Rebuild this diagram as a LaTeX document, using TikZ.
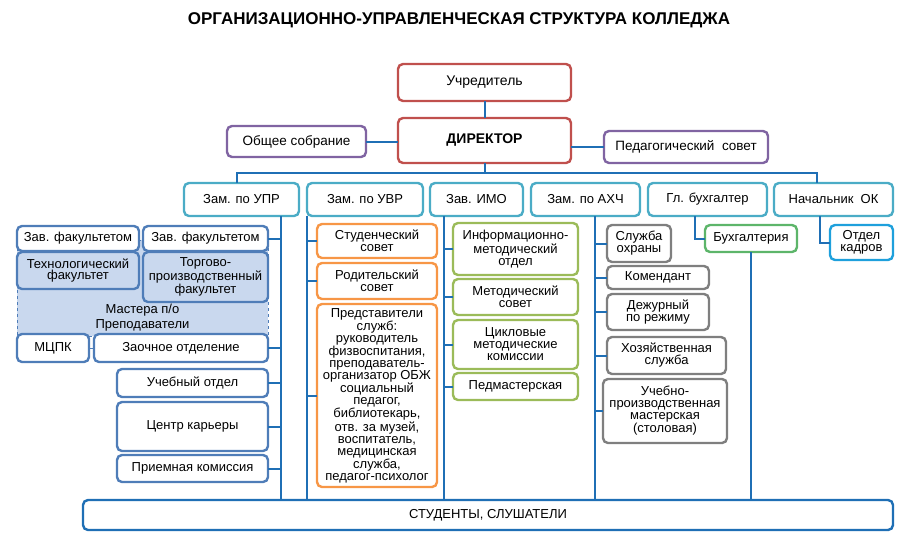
\documentclass[tikz,border=0pt]{standalone}
\usepackage{fontspec}
\setmainfont{Liberation Sans}
\definecolor{cred}{HTML}{C0504D}
\definecolor{cpurp}{HTML}{8064A2}
\definecolor{cteal}{HTML}{4BACC6}
\definecolor{cleftb}{HTML}{4F7DB8}
\definecolor{cfill}{HTML}{C9D8EE}
\definecolor{corange}{HTML}{F79646}
\definecolor{cgreen}{HTML}{9BBB59}
\definecolor{cgray}{HTML}{7F7F7F}
\definecolor{cbuh}{HTML}{5DB56A}
\definecolor{cok}{HTML}{1EA0DC}
\definecolor{cline}{HTML}{1F6FB5}
\newcommand\mybox[7]{\node[bx,#1,minimum width={(#5-#3)*1pt},minimum height={(#6-#4)*1pt}] (#2) at (#3,#4) {#7};}
\begin{document}
\begin{tikzpicture}[x=1pt,y=-1pt,
  bx/.style={draw, line width=2.4pt, rounded corners=5pt, fill=white, align=center,
    inner sep=1pt, outer sep=0pt, font=\fontsize{13}{12}\selectfont, anchor=north west},
  conn/.style={draw=cline, line width=2pt},
  redb/.style={draw=cred, font=\fontsize{14}{13}\selectfont},
  purpb/.style={draw=cpurp},
  tealb/.style={draw=cteal},
  leftb/.style={draw=cleftb},
  facb/.style={draw=cleftb, fill=cfill},
  orb/.style={draw=corange},
  grb/.style={draw=cgreen},
  gyb/.style={draw=cgray},
  buhb/.style={draw=cbuh},
  okb/.style={draw=cok},
  studb/.style={draw=cline}]
\useasboundingbox (0,0) rectangle (916,550);

\node[font=\fontsize{17}{19}\selectfont\bfseries] (title) at (459,20) {ОРГАНИЗАЦИОННО-УПРАВЛЕНЧЕСКАЯ СТРУКТУРА КОЛЛЕДЖА};

% top
\mybox{redb}{uchr}{398}{64}{571}{101}{Учредитель}
\mybox{redb}{dir}{398}{118}{571}{163}{\textbf{ДИРЕКТОР}}
\mybox{purpb,font=\fontsize{13.5}{13}\selectfont}{obs}{227}{126}{366}{157}{Общее собрание}
\mybox{purpb,font=\fontsize{13.5}{13}\selectfont}{ped}{604}{131}{768}{163}{Педагогический\ \ совет}

% deputies
\mybox{tealb}{zupr}{184}{183}{299}{216}{Зам. по УПР}
\mybox{tealb}{zuvr}{307}{183}{423}{216}{Зам. по УВР}
\mybox{tealb}{imo}{430}{183}{523}{216}{Зав. ИМО}
\mybox{tealb}{zahch}{531}{183}{640}{216}{Зам. по АХЧ}
\mybox{tealb}{glbuh}{648}{183}{767}{216}{Гл. бухгалтер}
\mybox{tealb}{nok}{774}{183}{893}{216}{Начальник\ \ ОК}

% left group
\node[draw=cleftb, dashed, line width=1pt, fill=cfill, anchor=north west, outer sep=0pt,
  minimum width=251pt, minimum height=96pt, inner sep=0pt] (mreg) at (17,240) {};
\mybox{leftb}{zf1}{17}{226}{139}{251}{Зав. факультетом}
\mybox{leftb}{zf2}{143}{226}{268}{251}{Зав. факультетом}
\mybox{facb,font=\fontsize{13}{11.5}\selectfont}{tech}{17}{252}{139}{289}{Технологический\\факультет}
\mybox{facb}{torg}{143}{252}{268}{302}{Торгово-\\производственный\\факультет}
\node[align=center, font=\fontsize{13}{15}\selectfont] (mast) at (142.5,318) {Мастера п/о\\Преподаватели};
\mybox{leftb}{mcpk}{17}{334}{89}{362}{МЦПК}
\mybox{leftb}{zaoch}{94}{334}{268}{362}{Заочное отделение}
\mybox{leftb}{ucheb}{117}{369}{268}{397}{Учебный отдел}
\mybox{leftb}{cent}{117}{402}{268}{451}{Центр карьеры}
\mybox{leftb}{priem}{117}{455}{268}{482}{Приемная комиссия}

% orange
\mybox{orb}{stsov}{317}{224}{437}{258}{Студенческий\\совет}
\mybox{orb}{rodsov}{317}{263}{437}{299}{Родительский\\совет}
\mybox{orb}{pred}{317}{304}{437}{487}{Представители\\служб:\\руководитель\\физвоспитания,\\преподаватель-\\организатор ОБЖ\\социальный\\педагог,\\библиотекарь,\\отв. за музей,\\воспитатель,\\медицинская\\служба,\\педагог-психолог}

% green
\mybox{grb}{info}{453}{223}{578}{275}{Информационно-\\методический\\отдел}
\mybox{grb}{metsov}{453}{279}{578}{315}{Методический\\совет}
\mybox{grb}{cikl}{453}{320}{578}{369}{Цикловые\\методические\\комиссии}
\mybox{grb}{pedm}{453}{373}{578}{400}{Педмастерская}

% gray
\mybox{gyb}{ohr}{607}{225}{671}{262}{Служба\\охраны}
\mybox{gyb}{kom}{607}{266}{709}{289}{Комендант}
\mybox{gyb}{dezh}{607}{294}{709}{330}{Дежурный\\по режиму}
\mybox{gyb}{hoz}{607}{337}{726}{374}{Хозяйственная\\служба}
\mybox{gyb}{uchpr}{603}{379}{727}{443}{Учебно-\\производственная\\мастерская\\(столовая)}

\mybox{buhb}{buhg}{705}{225}{797}{252}{Бухгалтерия}
\mybox{okb}{okadr}{830}{225}{893}{260}{Отдел\\кадров}

\mybox{studb}{stud}{83}{500}{893}{530}{СТУДЕНТЫ, СЛУШАТЕЛИ}

% connectors
\coordinate (busL) at (237,173);
\coordinate (busR) at (817,173);
\coordinate (c1) at (281,0);
\coordinate (c2) at (307,0);
\coordinate (c3) at (444,0);
\coordinate (c4) at (595,0);
\coordinate (c5) at (695,0);
\coordinate (c6) at (820,0);

\draw[conn] (uchr.south) -- (dir.north);
\draw[conn] (obs.east) -- (obs.east -| dir.west);
\draw[conn] (dir.east |- ped.west) -- (ped.west);
\draw[conn] (dir.south) -- (dir.south |- busL);
\draw[conn] (zupr.north -| busL) -- (busL) -- (busR) -- (nok.north -| busR);

\draw[conn] (zupr.south -| c1) -- (stud.north -| c1);
\draw[conn] (zuvr.south -| c2) -- (stud.north -| c2);
\draw[conn] (imo.south -| c3) -- (stud.north -| c3);
\draw[conn] (zahch.south -| c4) -- (stud.north -| c4);

\foreach \n in {zf2,zaoch,ucheb,cent,priem} \draw[conn] (c1 |- \n.east) -- (\n.east);
\foreach \n in {stsov,rodsov,pred} \draw[conn] (c2 |- \n.west) -- (\n.west);
\foreach \n in {info,metsov,cikl,pedm} \draw[conn] (c3 |- \n.west) -- (\n.west);
\foreach \n in {ohr,kom,dezh,hoz,uchpr} \draw[conn] (c4 |- \n.west) -- (\n.west);
\draw[draw=cleftb, line width=1pt] (mcpk.east) -- (zaoch.west);

\draw[conn] (glbuh.south -| c5) -- (c5 |- buhg.west) -- (buhg.west);
\draw[conn] (buhg.south) -- (stud.north -| buhg.south);
\draw[conn] (nok.south -| c6) -- (c6 |- okadr.west) -- (okadr.west);
\end{tikzpicture}
\end{document}
